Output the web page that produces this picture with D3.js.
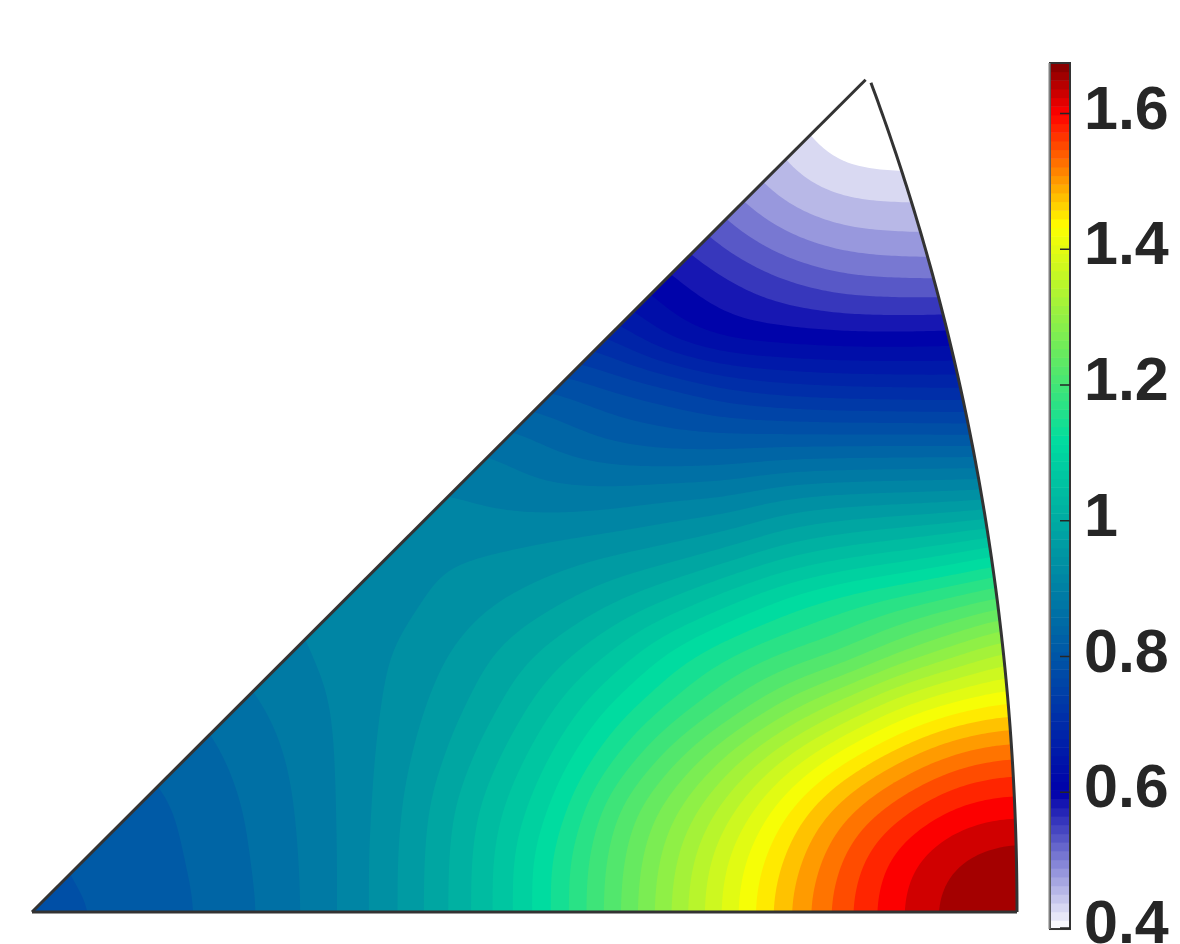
<!DOCTYPE html>
<html><head><meta charset="utf-8">
<script src="https://cdn.jsdelivr.net/npm/d3@7"></script>
<style>html,body{margin:0;padding:0;background:#fff;overflow:hidden}svg{display:block}</style>
</head><body><svg id="c" width="1180" height="944"></svg>
<script>
// colour bar ticks
const tickValues = [0.4,0.6,0.8,1,1.2,1.4,1.6];
const tickLabels = ["0.4","0.6","0.8","1","1.2","1.4","1.6"];
const barDomain = [0.3985,1.6744];
const barSteps = 100;
// contour levels
const levelStart = 0.416, levelStep = 0.0255, levelCount = 49;
// colour map stops
const stopValues = [0.3985,0.6,1.117,1.435,1.60,1.6744];
const stopColors = ["#ffffff","#0000aa","#00dca0","#ffff00","#ff0000","#7f0000"];
// value field, bottom row first, left to right
const row00 = [.785,.798,.812,.827,.853,.889,.935,.991,1.057,1.134,1.219,1.307,1.396,1.481,1.555,1.6145,1.655,1.672];
const row01 = [.79,.807,.815,.83,.856,.889,.935,.99,1.056,1.132,1.214,1.298,1.385,1.466,1.541,1.602,1.64,1.655];
const row02 = [.80,.81,.817,.835,.859,.891,.932,.985,1.045,1.111,1.195,1.27,1.348,1.429,1.50,1.554,1.593,1.605];
const row03 = [.82,.82,.828,.843,.866,.893,.929,.971,1.023,1.083,1.15,1.217,1.286,1.358,1.425,1.48,1.52,1.537];
const row04 = [.83,.83,.842,.855,.876,.897,.925,.958,.998,1.05,1.106,1.157,1.207,1.264,1.32,1.38,1.42,1.44];
const row05 = [.85,.85,.862,.873,.888,.904,.921,.945,.977,1.012,1.055,1.107,1.148,1.18,1.209,1.256,1.30,1.34];
const row06 = [.89,.89,.89,.885,.897,.908,.915,.929,.949,.97,.998,1.03,1.07,1.11,1.14,1.165,1.192,1.22];
const row07 = [.915,.915,.915,.915,.915,.915,.917,.92,.923,.932,.943,.956,.977,1.008,1.03,1.047,1.068,1.095];
const row08 = [.90,.90,.90,.90,.90,.90,.90,.902,.893,.885,.886,.895,.901,.921,.93,.934,.938,.945];
const row09 = [.88,.88,.88,.88,.88,.88,.88,.875,.867,.845,.826,.815,.815,.818,.819,.82,.82,.82];
const row10 = [.82,.82,.82,.82,.82,.82,.82,.82,.81,.80,.776,.757,.73,.715,.708,.705,.703,.707];
const row11 = [.74,.74,.74,.74,.74,.74,.74,.74,.74,.72,.695,.645,.618,.611,.607,.607,.61,.615];
const row12 = [.70,.70,.70,.70,.70,.70,.70,.70,.68,.66,.635,.604,.577,.552,.535,.53,.53,.535];
const row13 = [.62,.62,.62,.62,.62,.62,.62,.62,.62,.61,.60,.57,.53,.496,.476,.47,.47,.475];
const row14 = [.56,.56,.56,.56,.56,.56,.56,.56,.56,.56,.55,.53,.49,.453,.431,.427,.427,.43];
const row15 = [.50,.50,.50,.50,.50,.50,.50,.50,.50,.50,.50,.49,.46,.43,.395,.385,.385,.385];
const row16 = [.46,.46,.46,.46,.46,.46,.46,.46,.46,.46,.46,.45,.43,.41,.37,.36,.36,.36];
const rows = [row00,row01,row02,row03,row04,row05,row06,row07,row08,row09,row10,row11,row12,row13,row14,row15,row16];
// crystal direction near the top corner of the sector
const cornerTop = [.992,.992,1];
const ink = "#333333", labelInk = "#262626";

const svg = d3.select("#c");
const cmap = d3.scaleLinear().domain(stopValues).range(stopColors).interpolate(d3.interpolateRgb).clamp(true);
const nCols = rows[0].length, nRows = rows.length;
const colX = d3.scaleLinear().domain([0,nCols-1]).range([32,1018]);
const rowY = d3.scaleLinear().domain([0,nRows-1]).range([912,80]);
const sx = d3.scaleLinear().domain([0,0.76537]).range([32,1017]);
const sy = d3.scaleLinear().domain([0,0.6475]).range([912,80]);

function project(d){ // equal-area projection of a direction
  const n = Math.hypot(d[0],d[1],d[2]);
  const r = Math.sqrt(2*(1-d[2]/n)), a = Math.atan2(d[1],d[0]);
  return [sx(r*Math.cos(a)), sy(r*Math.sin(a))];
}
const arcPts = d3.range(0,0.9901,0.01).map(t=>project([1,t,1]));
const leftEnd = project(cornerTop);
const origin = project([0,0,1]);
const sectorPath = d3.line()([origin, ...arcPts, leftEnd])+"Z";

svg.append("defs").append("clipPath").attr("id","sector").append("path").attr("d",sectorPath);

// upsample with Catmull-Rom, then soften the grid scale, for the contouring
const F = 16;
function cr(a,b,c,d,t){return 0.5*((2*b)+(-a+c)*t+(2*a-5*b+4*c-d)*t*t+(-a+3*b-3*c+d)*t*t*t);}
const W=(nCols-1)*F+1, H=(nRows-1)*F+1;
const fine=new Float64Array(W*H);
const at=(r,c)=>rows[Math.max(0,Math.min(nRows-1,r))][Math.max(0,Math.min(nCols-1,c))];
for(let j=0;j<H;j++){
  const rf=j/F, r=Math.min(nRows-2,Math.floor(rf)), tr=rf-r;
  for(let i=0;i<W;i++){
    const cf=i/F, c=Math.min(nCols-2,Math.floor(cf)), tc=cf-c;
    const p=[-1,0,1,2].map(dr=>cr(at(r+dr,c-1),at(r+dr,c),at(r+dr,c+1),at(r+dr,c+2),tc));
    fine[j*W+i]=cr(p[0],p[1],p[2],p[3],tr);
  }
}
d3.blur2({data:fine,width:W},5);
const levels=d3.range(levelCount).map(i=>levelStart+i*levelStep);
const contours=d3.contours().size([W,H]).smooth(true).thresholds(levels)(fine);
const path=d3.geoPath(d3.geoTransform({point(x,y){
  this.stream.point(colX((x-0.5)/F), rowY((y-0.5)/F));
}}));
const map=svg.append("g").attr("clip-path","url(#sector)");
map.selectAll("path").data(contours).join("path")
  .attr("d",path).attr("fill",d=>cmap(d.value+levelStep/2)).attr("stroke","none");

// outline
const line=d3.line();
svg.append("path").attr("d",line([origin,leftEnd])).attr("fill","none").attr("stroke",ink).attr("stroke-width",3);
svg.append("path").attr("d",line([origin,project([1,0,1])])).attr("fill","none").attr("stroke",ink).attr("stroke-width",3);
svg.append("path").attr("d",line(arcPts)).attr("fill","none").attr("stroke",ink).attr("stroke-width",3);

// colour bar
const barY=d3.scaleLinear().domain([0.4,1.6]).range([928,113.5]);
const barX0=1050, barX1=1070;
const bandW=(barDomain[1]-barDomain[0])/barSteps;
const bands=d3.range(barSteps).map(i=>barDomain[0]+i*bandW);
svg.append("g").selectAll("rect").data(bands).join("rect")
  .attr("x",barX0).attr("width",barX1-barX0)
  .attr("y",d=>barY(d+bandW)).attr("height",d=>barY(d)-barY(d+bandW)+0.5)
  .attr("fill",d=>cmap(d+bandW/2));
svg.append("rect").attr("x",barX0).attr("y",barY(barDomain[1])).attr("width",barX1-barX0)
  .attr("height",barY(barDomain[0])-barY(barDomain[1])).attr("fill","none").attr("stroke",ink).attr("stroke-width",2);
svg.append("line").attr("x1",barX0-0.5).attr("x2",barX0-0.5).attr("y1",barY(barDomain[1])).attr("y2",barY(barDomain[0])).attr("stroke","#808080").attr("stroke-width",2);
const ticks=svg.append("g");
ticks.selectAll("line").data(tickValues).join("line")
  .attr("x1",barX1-10).attr("x2",barX1).attr("y1",d=>barY(d)).attr("y2",d=>barY(d)).attr("stroke",labelInk).attr("stroke-width",1.5);
ticks.selectAll("text").data(tickValues).join("text")
  .attr("x",1084).attr("y",d=>barY(d)+15)
  .attr("font-family","'Liberation Sans',Arial,sans-serif").attr("font-weight",700).attr("font-size",61).attr("fill",labelInk)
  .text((d,i)=>tickLabels[i]);
</script></body></html>
